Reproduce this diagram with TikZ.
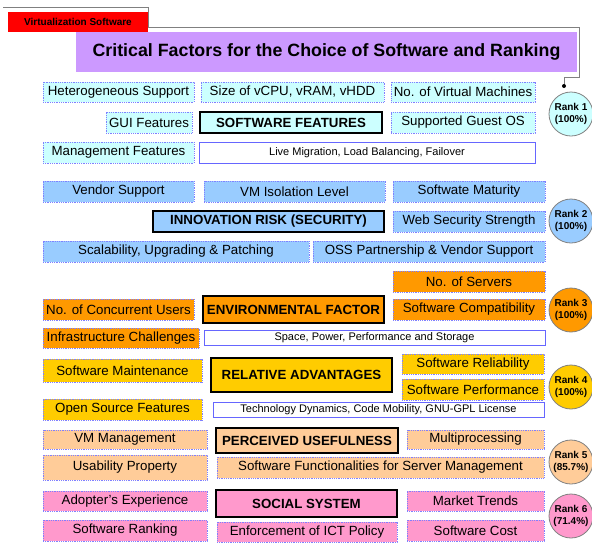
\documentclass[tikz,border=0pt]{standalone}
\usepackage{fontspec}
\setmainfont{Liberation Sans}
\usetikzlibrary{positioning}

\definecolor{featcyan}{HTML}{CCFFFF}
\definecolor{riskblue}{HTML}{99CCFF}
\definecolor{envorange}{HTML}{FF9900}
\definecolor{relgold}{HTML}{FFCC00}
\definecolor{usepeach}{HTML}{FFCC99}
\definecolor{socpink}{HTML}{FF99CC}
\definecolor{titlelilac}{HTML}{CC99FF}
\definecolor{dotline}{HTML}{8080FF}
\definecolor{noteline}{HTML}{6666FF}

\begin{document}
\begin{tikzpicture}[x=1pt,y=-1pt,
  item/.style={draw=dotline,densely dotted,line width=0.8pt,inner sep=0pt,font=\fontsize{13.3}{15}\selectfont},
  factor/.style={draw=black,line width=2pt,inner sep=0pt,font=\bfseries\fontsize{13.3}{15}\selectfont},
  note/.style={draw=noteline,line width=0.8pt,fill=white,inner sep=0pt,font=\fontsize{11}{13}\selectfont},
  rank/.style={circle,draw=gray,line width=0.8pt,minimum size=44pt,inner sep=0pt,align=center,font=\bfseries\fontsize{10}{12}\selectfont},
  box/.style 2 args={minimum width=#1,minimum height=#2}]
  \useasboundingbox (0,0) rectangle (592,542);

  % header tab and title
  \coordinate (pin) at (564,86);
  \draw[gray,line width=0.8pt] (3,7) -- (148,7) -- (148,27) -- (579,27) -- (579,77) -| (pin);
  \node[fill=red,box={140}{20},inner sep=0pt,font=\bfseries\fontsize{10}{12}\selectfont] (tab) at (78,22) {Virtualization Software};
  \node[fill=titlelilac,box={501}{40},inner sep=0pt,font=\bfseries\fontsize{17.8}{20}\selectfont] (title) at (326.5,52) {Critical Factors for the Choice of Software and Ranking};
  \fill (pin) circle (2);

  % software features
  \node[item,fill=featcyan,box={151}{20}] (hetero) at (118.5,92) {Heterogeneous Support};
  \node[item,fill=featcyan,box={183}{20}] (vcpu) at (292.5,92) {Size of vCPU, vRAM, vHDD};
  \node[item,fill=featcyan,box={144}{20}] (vms) at (463,92) {No. of Virtual Machines};
  \node[item,fill=featcyan,box={86}{21}] (gui) at (149,122.5) {GUI Features};
  \node[factor,fill=featcyan,box={182}{21}] (swfeat) at (291,122.5) {SOFTWARE FEATURES};
  \node[item,fill=featcyan,box={144}{21}] (guest) at (463,122.5) {Supported Guest OS};
  \node[item,fill=featcyan,box={151}{21}] (mgmt) at (118.5,152.5) {Management Features};
  \node[note,box={336}{21}] (live) at (367,152.5) {Live Migration, Load Balancing, Failover};
  \node[rank,fill=featcyan] (rank1) at (571,114) {Rank 1\\(100\%)};

  % innovation risk
  \node[item,fill=riskblue,box={151}{21}] (vendor) at (118.5,191.5) {Vendor Support};
  \node[item,fill=riskblue,box={181}{21}] (isolation) at (294.5,191.5) {VM Isolation Level};
  \node[item,fill=riskblue,box={152}{21}] (maturity) at (469,191.5) {Softwate Maturity};
  \node[factor,fill=riskblue,box={231}{21}] (innov) at (268.5,221.5) {INNOVATION RISK (SECURITY)};
  \node[item,fill=riskblue,box={152}{21}] (websec) at (469,221.5) {Web Security Strength};
  \node[item,fill=riskblue,box={266}{21}] (scal) at (176,251.5) {Scalability, Upgrading \& Patching};
  \node[item,fill=riskblue,box={232}{21}] (oss) at (429,251.5) {OSS Partnership \& Vendor Support};
  \node[rank,fill=riskblue] (rank2) at (571,221) {Rank 2\\(100\%)};

  % environmental factor
  \node[item,fill=envorange,box={152}{21}] (servers) at (469,281.5) {No. of Servers};
  \node[item,fill=envorange,box={151}{21}] (users) at (118.5,309.5) {No. of Concurrent Users};
  \node[factor,fill=envorange,box={181}{27}] (env) at (293.5,309.5) {ENVIRONMENTAL FACTOR};
  \node[item,fill=envorange,box={152}{21}] (compat) at (469,309.5) {Software Compatibility};
  \node[item,fill=envorange,box={156}{20}] (infra) at (121,338) {Infrastructure Challenges};
  \node[note,box={341}{15}] (space) at (374.5,337.5) {Space, Power, Performance and Storage};
  \node[rank,fill=envorange] (rank3) at (571,310) {Rank 3\\(100\%)};

  % relative advantages
  \node[item,fill=relgold,box={159}{23}] (maint) at (122.5,370.5) {Software Maintenance};
  \node[factor,fill=relgold,box={181}{34}] (relative) at (301.5,375) {RELATIVE ADVANTAGES};
  \node[item,fill=relgold,box={142}{20}] (reliab) at (473,364) {Software Reliability};
  \node[item,fill=relgold,box={142}{21}] (perf) at (473,389.5) {Software Performance};
  \node[item,fill=relgold,box={159}{21}] (opensrc) at (122.5,409.5) {Open Source Features};
  \node[note,box={331}{15}] (techdyn) at (378.5,409.5) {Technology Dynamics, Code Mobility, GNU-GPL License};
  \node[rank,fill=relgold] (rank4) at (571,387) {Rank 4\\(100\%)};

  % perceived usefulness
  \node[item,fill=usepeach,box={164}{19}] (vmmgmt) at (125,439.5) {VM Management};
  \node[factor,fill=usepeach,box={182}{25}] (perceived) at (307,440.5) {PERCEIVED USEFULNESS};
  \node[item,fill=usepeach,box={137}{19}] (multi) at (475.5,439.5) {Multiprocessing};
  \node[item,fill=usepeach,box={164}{25}] (usab) at (125,467.5) {Usability Property};
  \node[item,fill=usepeach,box={327}{21}] (funct) at (380.5,467.5) {Software Functionalities for Server Management};
  \node[rank,fill=usepeach] (rank5) at (571,462) {Rank 5\\(85.7\%)};

  % social system
  \node[item,fill=socpink,box={164}{20}] (adopter) at (125,501) {Adopter's Experience};
  \node[factor,fill=socpink,box={181}{27}] (social) at (306.5,503.5) {SOCIAL SYSTEM};
  \node[item,fill=socpink,box={137}{20}] (trends) at (475.5,501) {Market Trends};
  \node[item,fill=socpink,box={164}{21}] (ranking) at (125,530.5) {Software Ranking};
  \node[item,fill=socpink,box={180}{20}] (ict) at (307,532) {Enforcement of ICT Policy};
  \node[item,fill=socpink,box={137}{21}] (cost) at (475.5,530.5) {Software Cost};
  \node[rank,fill=socpink] (rank6) at (571,516) {Rank 6\\(71.4\%)};
\end{tikzpicture}
\end{document}
